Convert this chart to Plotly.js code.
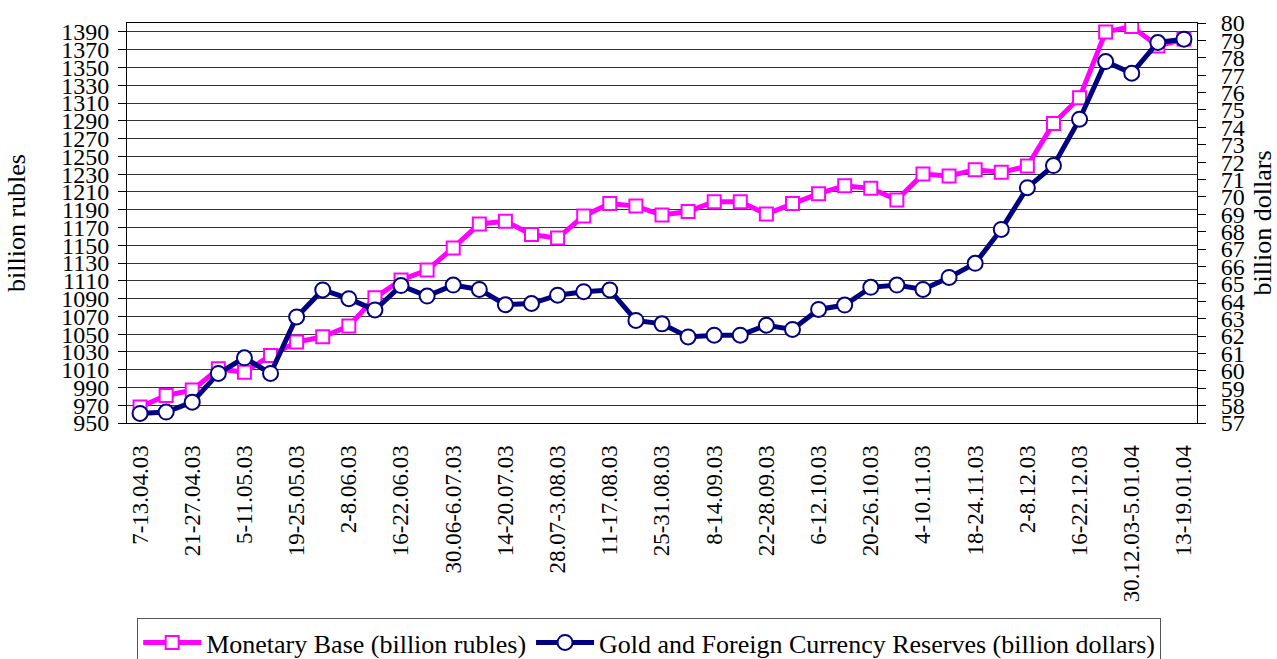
<!DOCTYPE html>
<html>
<head>
<meta charset="utf-8">
<script src="https://cdn.plot.ly/plotly-3.0.1.min.js"></script>
<style>
html,body{margin:0;padding:0;background:#fff;}
#chart{width:1277px;height:659px;}
</style>
</head>
<body>
<div id="chart"></div>
<script>
// Weekly periods (every other one is labelled on the axis)
var weeks = [
  "7-13.04.03","14-20.04.03","21-27.04.03","28.04-4.05.03","5-11.05.03","12-18.05.03",
  "19-25.05.03","26.05-1.06.03","2-8.06.03","9-15.06.03","16-22.06.03","23-29.06.03",
  "30.06-6.07.03","7-13.07.03","14-20.07.03","21-27.07.03","28.07-3.08.03","4-10.08.03",
  "11-17.08.03","18-24.08.03","25-31.08.03","1-7.09.03","8-14.09.03","15-21.09.03",
  "22-28.09.03","29.09-5.10.03","6-12.10.03","13-19.10.03","20-26.10.03","27.10-2.11.03",
  "4-10.11.03","11-17.11.03","18-24.11.03","25.11-1.12.03","2-8.12.03","9-15.12.03",
  "16-22.12.03","23-29.12.03","30.12.03-5.01.04","6-12.01.04","13-19.01.04"
];

// Monetary Base, billion rubles
var monetaryBase = [
  968, 981, 987, 1011, 1007, 1026, 1041, 1047, 1059, 1091,
  1111, 1122, 1147, 1174, 1177, 1162, 1158, 1183, 1197, 1194,
  1184, 1188, 1199, 1199, 1185, 1197, 1208, 1217, 1214, 1201,
  1230, 1228, 1235, 1232, 1239, 1287, 1316, 1390, 1396, 1374, 1382
];

// Gold and Foreign Currency Reserves, billion dollars
var reserves = [
  57.55, 57.63, 58.2, 59.85, 60.75, 59.85, 63.1, 64.65, 64.15, 63.5,
  64.9, 64.3, 64.93, 64.68, 63.8, 63.87, 64.35, 64.55, 64.65, 62.9,
  62.7, 61.95, 62.05, 62.05, 62.62, 62.38, 63.53, 63.78, 64.8, 64.93,
  64.68, 65.37, 66.18, 68.13, 70.53, 71.8, 74.47, 77.78, 77.11, 78.88, 79.07
];

var seriesNames = ["Monetary Base (billion rubles)", "Gold and Foreign Currency Reserves (billion dollars)"];
var leftTitle = "billion rubles";
var rightTitle = "billion dollars";

var labelledWeeks = weeks.filter(function(w, i){ return i % 2 === 0; });

var FONT = "Liberation Serif, Times New Roman, serif";

var traces = [
  {
    x: weeks, y: monetaryBase, name: seriesNames[0],
    type: "scatter", mode: "lines+markers",
    xaxis: "x", yaxis: "y",
    line: {color: "#FF00FF", width: 5},
    marker: {symbol: "square", size: 13, color: "#FFFFFF", line: {color: "#FF00FF", width: 2}}
  },
  {
    x: weeks, y: reserves, name: seriesNames[1],
    type: "scatter", mode: "lines+markers",
    xaxis: "x", yaxis: "y2",
    line: {color: "#000080", width: 5},
    marker: {symbol: "circle", size: 15, color: "#FFFFFF", line: {color: "#000080", width: 2}}
  }
];

var layout = {
  width: 1277, height: 659,
  margin: {l: 127, r: 80, t: 23, b: 236, pad: 0, autoexpand: false},
  paper_bgcolor: "#FFFFFF", plot_bgcolor: "#FFFFFF",
  font: {family: FONT, size: 22, color: "#000"},
  showlegend: true,
  legend: {
    orientation: "h", x: 0.0095, xanchor: "left", y: -0.4875, yanchor: "top",
    bordercolor: "#555", borderwidth: 1, bgcolor: "#FFFFFF",
    font: {family: FONT, size: 26, color: "#000"},
    tracegroupgap: 0, itemwidth: 58
  },
  xaxis: {
    type: "category", categoryorder: "array", categoryarray: weeks,
    range: [-0.5, weeks.length - 0.5], automargin: false,
    tickmode: "array", tickvals: labelledWeeks, ticktext: labelledWeeks,
    tickangle: -90, ticks: "", ticklabelstandoff: 12,
    showgrid: false, zeroline: false,
    showline: true, linecolor: "#000", linewidth: 1, mirror: true,
    tickfont: {family: FONT, size: 23, color: "#000"},
    fixedrange: true
  },
  xaxis2: {
    overlaying: "x", anchor: "y", side: "bottom", type: "linear",
    range: [-0.5, weeks.length - 0.5], automargin: false,
    tickmode: "linear", tick0: -0.5, dtick: 1,
    ticks: "outside", ticklen: 8, tickcolor: "#000", tickwidth: 1,
    showticklabels: false, showgrid: false, zeroline: false, showline: false
  },
  yaxis: {
    range: [950, 1400], tickmode: "linear", tick0: 950, dtick: 20, automargin: false,
    ticks: "outside", ticklen: 8, tickcolor: "#000", ticklabelstandoff: 4,
    showgrid: true, gridcolor: "#333", gridwidth: 1, zeroline: false,
    showline: true, linecolor: "#000", linewidth: 1,
    tickfont: {family: FONT, size: 24, color: "#000"},
    title: {text: leftTitle, font: {family: FONT, size: 26, color: "#000"}, standoff: 28}
  },
  yaxis2: {
    overlaying: "y", side: "right", anchor: "x", automargin: false,
    range: [57, 80], tickmode: "linear", tick0: 57, dtick: 1,
    ticks: "outside", ticklen: 8, tickcolor: "#000", ticklabelstandoff: 10,
    showgrid: false, zeroline: false,
    showline: true, linecolor: "#000", linewidth: 1,
    tickfont: {family: FONT, size: 24, color: "#000"},
    title: {text: rightTitle, font: {family: FONT, size: 26, color: "#000"}, standoff: 16}
  }
};

Plotly.newPlot("chart", traces, layout, {displayModeBar: false, staticPlot: true});
</script>
</body>
</html>
